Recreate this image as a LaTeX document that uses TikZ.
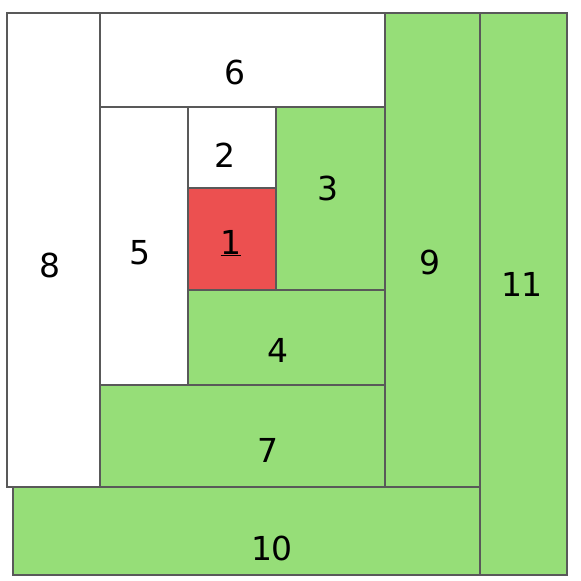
\documentclass[tikz,border=0pt]{standalone}
\usepackage{fontspec}
\setmainfont{DejaVu Sans}
\begin{document}
\begin{tikzpicture}[x=1pt,y=-1pt,
  patch/.style={draw=black!65,line width=1.1pt,inner sep=0pt},
  greenpatch/.style={patch,fill={rgb,255:red,150;green,222;blue,120}},
  whitepatch/.style={patch,fill=white},
  redpatch/.style={patch,fill={rgb,255:red,236;green,80;blue,80}},
  num/.style={inner sep=0pt,font=\fontsize{33}{33}\selectfont}]
\fill[white] (0,0) rectangle (581,581);
\useasboundingbox (0,0) rectangle (581,581);
\node[greenpatch,minimum width=87pt,minimum height=562pt] (p11) at (523.5,294) {};
\node[greenpatch,minimum width=467pt,minimum height=88pt] (p10) at (246.5,531) {};
\node[whitepatch,minimum width=93pt,minimum height=474pt] (p8) at (53.5,250) {};
\node[greenpatch,minimum width=95pt,minimum height=474pt] (p9) at (432.5,250) {};
\node[whitepatch,minimum width=285pt,minimum height=94pt] (p6) at (242.5,60) {};
\node[greenpatch,minimum width=285pt,minimum height=102pt] (p7) at (242.5,436) {};
\node[whitepatch,minimum width=88pt,minimum height=278pt] (p5) at (144,246) {};
\node[greenpatch,minimum width=109pt,minimum height=183pt] (p3) at (330.5,198.5) {};
\node[greenpatch,minimum width=197pt,minimum height=95pt] (p4) at (286.5,337.5) {};
\node[whitepatch,minimum width=88pt,minimum height=81pt] (p2) at (232,147.5) {};
\node[redpatch,minimum width=88pt,minimum height=102pt] (p1) at (232,239) {};
\node[num] (n1) at (231,243) {\underline{1}};
\node[num] (n2) at (225,155) {2};
\node[num] (n3) at (328,188) {3};
\node[num] (n4) at (278,350) {4};
\node[num] (n5) at (140,253) {5};
\node[num] (n6) at (235,72) {6};
\node[num] (n7) at (268,450) {7};
\node[num] (n8) at (50,265) {8};
\node[num] (n9) at (430,262) {9};
\node[num] (n10) at (272,548) {10};
\node[num] (n11) at (522,284) {11};
\end{tikzpicture}
\end{document}
